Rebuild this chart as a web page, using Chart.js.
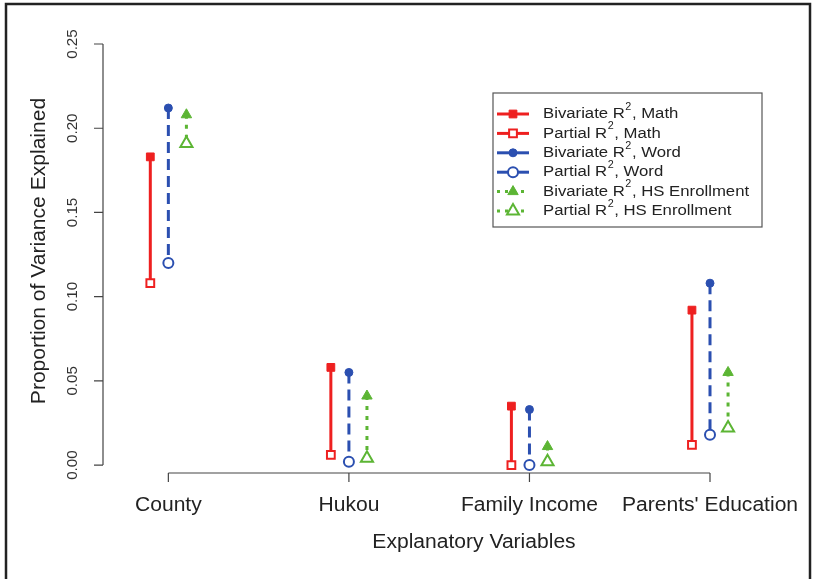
<!DOCTYPE html>
<html>
<head>
<meta charset="utf-8">
<script src="https://cdn.jsdelivr.net/npm/chart.js@4.4.1/dist/chart.umd.min.js"></script>
<style>
  html, body { margin: 0; padding: 0; background: #fff; }
  #wrap { position: relative; width: 816px; height: 579px; }
</style>
</head>
<body>
<div id="wrap"><canvas id="chart" width="816" height="579"></canvas></div>
<script>
// Categories and values
const categories = ['County', 'Hukou', 'Family Income', "Parents' Education"];
const mathBivariate = [0.183, 0.058, 0.035, 0.092];
const mathPartial = [0.108, 0.006, 0.0, 0.012];
const wordBivariate = [0.212, 0.055, 0.033, 0.108];
const wordPartial = [0.120, 0.002, 0.0, 0.018];
const hsBivariate = [0.208, 0.041, 0.011, 0.055];
const hsPartial = [0.191, 0.004, 0.002, 0.022];
const yTicks = [0, 0.05, 0.1, 0.15, 0.2, 0.25];

const RED = '#ee2020';
const BLUE = '#2b4fb0';
const GREEN = '#5cb534';
// horizontal dodge of each measure around the category position
const dodge = { math: -0.1, word: 0, hs: 0.1 };

const pts = (vals, off) => vals.map((v, i) => ({ x: i + 1 + off, y: v }));
// vertical segment from bivariate to partial, broken between categories
const seg = (a, b, off) => a.flatMap((v, i) => [
  { x: i + 1 + off, y: v },
  { x: i + 1 + off, y: b[i] },
  { x: i + 1 + off, y: null },
]);

const FONT = '"Liberation Sans", Arial, sans-serif';
const STRETCH = 1.08; // the original lettering runs a bit wide

// text drawn slightly widened, optionally rotated
function wideText(ctx, txt, x, y, rot) {
  ctx.save();
  ctx.translate(x, y);
  if (rot) ctx.rotate(rot);
  ctx.scale(STRETCH, 1);
  ctx.fillText(txt, 0, 0);
  ctx.restore();
  return ctx.measureText(txt).width * STRETCH;
}

// R-style axes, labels, frame and legend
const rStyle = {
  id: 'rStyle',
  afterDraw(chart) {
    const ctx = chart.ctx;
    const xs = chart.scales.x;
    const ys = chart.scales.y;
    const area = chart.chartArea;
    ctx.save();

    // outer frame
    ctx.strokeStyle = '#222';
    ctx.lineWidth = 2.5;
    ctx.strokeRect(6, 4, 804, 580);

    // y axis
    ctx.strokeStyle = '#444';
    ctx.lineWidth = 1.2;
    const ax = area.left;
    ctx.beginPath();
    ctx.moveTo(ax, ys.getPixelForValue(yTicks[0]));
    ctx.lineTo(ax, ys.getPixelForValue(yTicks[yTicks.length - 1]));
    yTicks.forEach(t => {
      const py = ys.getPixelForValue(t);
      ctx.moveTo(ax, py);
      ctx.lineTo(ax - 9, py);
    });
    ctx.stroke();
    ctx.fillStyle = '#333';
    ctx.font = '14px ' + FONT;
    ctx.textAlign = 'center';
    ctx.textBaseline = 'middle';
    yTicks.forEach(t => {
      wideText(ctx, t.toFixed(2), ax - 30, ys.getPixelForValue(t), -Math.PI / 2);
    });

    // x axis
    const by = area.bottom;
    ctx.beginPath();
    ctx.moveTo(xs.getPixelForValue(1), by);
    ctx.lineTo(xs.getPixelForValue(categories.length), by);
    categories.forEach((c, i) => {
      const px = xs.getPixelForValue(i + 1);
      ctx.moveTo(px, by);
      ctx.lineTo(px, by + 9);
    });
    ctx.stroke();
    ctx.fillStyle = '#222';
    ctx.font = '19.5px ' + FONT;
    categories.forEach((c, i) => {
      wideText(ctx, c, xs.getPixelForValue(i + 1), 506);
    });

    // axis titles
    wideText(ctx, 'Explanatory Variables', 474, 543);
    wideText(ctx, 'Proportion of Variance Explained', 40, 251, -Math.PI / 2);

    // legend
    const lx = 493, ly = 93, lw = 269, lh = 134;
    ctx.fillStyle = '#fff';
    ctx.fillRect(lx, ly, lw, lh);
    ctx.strokeStyle = '#555';
    ctx.lineWidth = 1.2;
    ctx.strokeRect(lx, ly, lw, lh);
    const entries = chart.data.datasets.filter(d => d.legendText);
    entries.forEach((d, k) => {
      const ey = 114 + k * 19.4;
      ctx.save();
      ctx.strokeStyle = d.borderColor;
      ctx.lineWidth = 3;
      ctx.setLineDash(d.legendDash);
      ctx.beginPath();
      ctx.moveTo(497, ey);
      ctx.lineTo(529, ey);
      ctx.stroke();
      ctx.setLineDash([]);
      ctx.fillStyle = d.backgroundColor;
      ctx.lineWidth = d.borderWidth;
      Chart.helpers.drawPoint(ctx, {
        pointStyle: d.pointStyle,
        radius: d.pointRadius,
        borderWidth: d.borderWidth,
      }, 513, ey);
      ctx.restore();
      // text with superscript 2
      ctx.fillStyle = '#222';
      ctx.textAlign = 'left';
      ctx.font = '15.5px ' + FONT;
      const [pre, post] = d.legendText;
      let tx = 543;
      tx += wideText(ctx, pre, tx, ey);
      ctx.font = '10px ' + FONT;
      tx += wideText(ctx, '2', tx + 0.5, ey - 7) + 1;
      ctx.font = '15.5px ' + FONT;
      wideText(ctx, post, tx, ey);
    });
    ctx.restore();
  }
};

const pointSet = (label, legendText, vals, off, style, color, filled, radius, dash) => ({
  type: 'scatter',
  label,
  legendText,
  legendDash: dash,
  data: pts(vals, off),
  pointStyle: style,
  pointRadius: radius,
  pointHoverRadius: radius,
  backgroundColor: filled ? color : '#fff',
  borderColor: color,
  borderWidth: filled ? 1 : 2,
  order: 1,
});

const lineSet = (label, a, b, off, color, dash) => ({
  type: 'line',
  label,
  data: seg(a, b, off),
  borderColor: color,
  borderWidth: 3,
  borderDash: dash,
  pointRadius: 0,
  spanGaps: false,
  fill: false,
  order: 2,
});

new Chart(document.getElementById('chart'), {
  type: 'scatter',
  data: {
    datasets: [
      lineSet('Math', mathBivariate, mathPartial, dodge.math, RED, []),
      lineSet('Word', wordBivariate, wordPartial, dodge.word, BLUE, [11, 6]),
      lineSet('HS Enrollment', hsBivariate, hsPartial, dodge.hs, GREEN, [4, 6]),
      pointSet('Bivariate R2, Math', ['Bivariate R', ', Math'], mathBivariate, dodge.math, 'rect', RED, true, 5.5, []),
      pointSet('Partial R2, Math', ['Partial R', ', Math'], mathPartial, dodge.math, 'rect', RED, false, 5.5, []),
      pointSet('Bivariate R2, Word', ['Bivariate R', ', Word'], wordBivariate, dodge.word, 'circle', BLUE, true, 4, []),
      pointSet('Partial R2, Word', ['Partial R', ', Word'], wordPartial, dodge.word, 'circle', BLUE, false, 5, []),
      pointSet('Bivariate R2, HS Enrollment', ['Bivariate R', ', HS Enrollment'], hsBivariate, dodge.hs, 'triangle', GREEN, true, 6, [3, 5]),
      pointSet('Partial R2, HS Enrollment', ['Partial R', ', HS Enrollment'], hsPartial, dodge.hs, 'triangle', GREEN, false, 7, [3, 5]),
    ],
  },
  options: {
    responsive: false,
    animation: false,
    events: [],
    layout: { padding: { left: 103, right: 41, top: 26, bottom: 106 } },
    scales: {
      x: { type: 'linear', min: 0.638, max: 4.36, display: false },
      y: { type: 'linear', min: -0.0047, max: 0.2607, display: false },
    },
    plugins: {
      legend: { display: false },
      tooltip: { enabled: false },
    },
  },
  plugins: [rStyle],
});
</script>
</body>
</html>
